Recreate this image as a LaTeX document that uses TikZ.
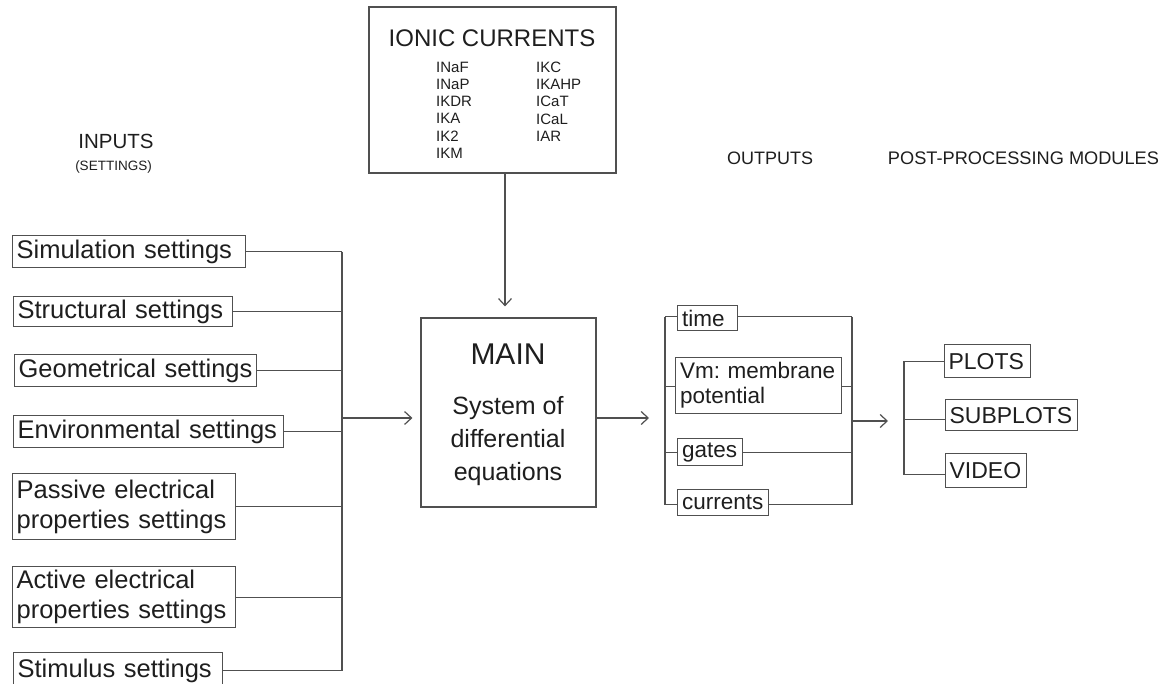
\documentclass[tikz,border=0pt]{standalone}
\usepackage{fontspec}
\setmainfont{Liberation Sans}
\usetikzlibrary{arrows.meta}
\definecolor{linec}{RGB}{80,80,80}
\definecolor{textc}{RGB}{30,30,30}
\frenchspacing
\begin{document}
\begin{tikzpicture}[x=1pt,y=-1pt,
  lin/.style={draw=linec, line width=1.2pt},
  arr/.style={lin, -{Straight Barb[length=7pt,width=13pt]}},
  boxbase/.style={draw=linec, line width=1.2pt, text=textc},
  inbox/.style={boxbase, anchor=north west, inner xsep=4pt, inner ysep=0pt, align=left,
    font=\fontsize{25.5}{30}\selectfont},
  outbox/.style={boxbase, anchor=north west, inner xsep=4.5pt, inner ysep=0pt, align=left,
    font=\fontsize{22.5}{25}\selectfont},
  postbox/.style={boxbase, anchor=north west, inner xsep=4pt, inner ysep=0pt, align=left,
    font=\fontsize{23}{27}\selectfont},
  head/.style={text=textc, inner sep=0pt}
]
\useasboundingbox (0,0) rectangle (1164,684);
\clip (0,0) rectangle (1164,684);

% headers
\node[head, font=\fontsize{20.5}{24}\selectfont] (hin) at (116,141) {INPUTS};
\node[head, font=\fontsize{13.5}{16}\selectfont] (hset) at (113.5,167) {(SETTINGS)};
\node[head, font=\fontsize{18}{22}\selectfont] (hout) at (770,158.5) {OUTPUTS};
\node[head, font=\fontsize{18.2}{22}\selectfont] (hpost) at (1023.5,158.5) {POST-PROCESSING MODULES};

% ionic currents
\node[boxbase, minimum width=247pt, minimum height=166pt, inner sep=0pt] (ionic) at (492.5,90) {};
\node[head, font=\fontsize{24}{28}\selectfont] (ionT) at (492,38.5) {IONIC CURRENTS};
\node[head, anchor=north west, align=left, font=\fontsize{15}{17.3}\selectfont] (ionL) at (436,61.5)
  {INaF\\INaP\\IKDR\\IKA\\IK2\\IKM};
\node[head, anchor=north west, align=left, font=\fontsize{15}{17.3}\selectfont] (ionR) at (536,61.5)
  {IKC\\IKAHP\\ICaT\\ICaL\\IAR};

% main
\node[boxbase, minimum width=175pt, minimum height=189pt, inner sep=0pt] (main) at (508.5,412.5) {};
\node[head, font=\fontsize{30}{36}\selectfont] (mainT) at (508,354) {MAIN};
\node[head, align=center, font=\fontsize{25}{33}\selectfont] (mainS) at (508,441)
  {System of\\differential\\equations};

% inputs
\node[inbox, text width=225pt, minimum height=32pt] (sim) at (12,235) {Simulation settings};
\node[inbox, text width=211pt, minimum height=30pt] (struct) at (13,296) {Structural settings};
\node[inbox, text width=234pt, minimum height=32pt] (geom) at (14,354) {Geometrical settings};
\node[inbox, text width=262pt, minimum height=32pt] (env) at (13,415) {Environmental settings};
\node[inbox, text width=215pt, minimum height=66pt] (pass) at (12,473) {Passive electrical\\properties settings};
\node[inbox, text width=215pt, minimum height=61pt] (act) at (12,566) {Active electrical\\properties settings};
\node[inbox, text width=201pt, minimum height=36pt] (stim) at (13,652) {Stimulus settings};

\coordinate (ib) at (342,0);
\coordinate (ay) at (0,418);
\foreach \n in {sim,struct,geom,env,pass,act,stim}
  \draw[lin] (\n.east) -- (\n.east -| ib);
\draw[lin] (sim.east -| ib) -- (stim.east -| ib);
\draw[arr, shorten >=8pt] (ib |- ay) -- (main.west |- ay);

% ionic -> main
\coordinate (ax) at (505,0);
\draw[arr, shorten >=11pt] (ionic.south -| ax) -- (main.north -| ax);

% outputs
\coordinate (ob) at (665,0);
\coordinate (rb) at (852,0);
\draw[arr, shorten >=16pt] (main.east |- ay) -- (ob |- ay);

\node[outbox, text width=51pt, minimum height=25pt] (time) at (677,305) {time};
\node[outbox, text width=157pt, minimum height=56pt] (vm) at (675,357) {\mbox{Vm: membrane}\\potential};
\node[outbox, text width=56pt, minimum height=27pt] (gates) at (677,438) {gates};
\node[outbox, text width=82pt, minimum height=26pt] (curr) at (677,489) {currents};

\coordinate (tW) at ([yshift=1.5pt]time.west);
\coordinate (tE) at ([yshift=1.5pt]time.east);
\coordinate (vW) at ([yshift=-1pt]vm.west);
\coordinate (vE) at ([yshift=-1pt]vm.east);
\coordinate (cW) at ([yshift=-2pt]curr.west);
\coordinate (cE) at ([yshift=-2pt]curr.east);

\draw[lin] (ob |- tW) -- (tW);
\draw[lin] (tE) -- (rb |- tE);
\draw[lin] (ob |- vW) -- (vW);
\draw[lin] (vE) -- (rb |- vE);
\draw[lin] (ob |- gates.west) -- (gates.west);
\draw[lin] (gates.east) -- (rb |- gates.east);
\draw[lin] (ob |- cW) -- (cW);
\draw[lin] (cE) -- (rb |- cE);
\draw[lin] (ob |- tW) -- (ob |- cW);
\draw[lin] (rb |- tE) -- (rb |- cE);

% post-processing
\coordinate (pb) at (904,0);
\coordinate (ay2) at (0,421);
\draw[arr, shorten >=16pt] (rb |- ay2) -- (pb |- ay2);

\node[postbox, text width=78pt, minimum height=33pt] (plots) at (944,344) {PLOTS};
\node[postbox, text width=124pt, minimum height=31pt] (subp) at (945,399) {SUBPLOTS};
\node[postbox, text width=73pt, minimum height=34pt] (video) at (945,453) {VIDEO};

\coordinate (sW) at ([yshift=-4.5pt]subp.west);
\coordinate (dW) at ([yshift=-4pt]video.west);
\draw[lin] (pb |- plots.west) -- (plots.west);
\draw[lin] (pb |- sW) -- (sW);
\draw[lin] (pb |- dW) -- (dW);
\draw[lin] (pb |- plots.west) -- (pb |- dW);
\end{tikzpicture}
\end{document}
